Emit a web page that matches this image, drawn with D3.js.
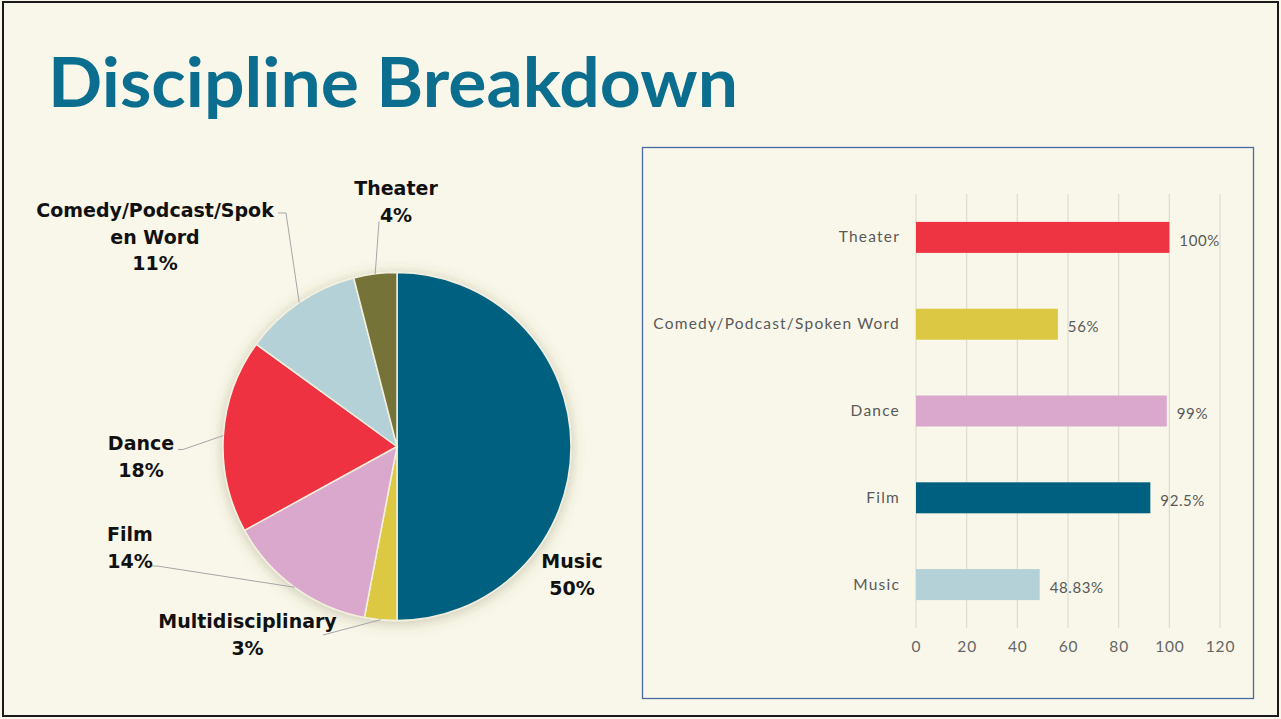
<!DOCTYPE html>
<html>
<head>
<meta charset="utf-8">
<script src="https://cdn.jsdelivr.net/npm/d3@7"></script>
<style>
  html, body { margin: 0; padding: 0; background: #f9f7e9; }
  svg { display: block; }
</style>
</head>
<body>
<svg id="slide" width="1281" height="719"></svg>
<script>
// ---- Data ----
const pieCategories = ["Music", "Multidisciplinary", "Film", "Dance", "Comedy/Podcast/Spoken Word", "Theater"];
const pieShares = [50, 3, 14, 18, 11, 4];
const pieColors = ["#00607f", "#dcc842", "#daa8cc", "#ee3342", "#b3d1d6", "#757339"];
// label lines as wrapped in the chart
const pieLabelLines = [["Music", "50%"], ["Multidisciplinary", "3%"], ["Film", "14%"], ["Dance", "18%"], ["Comedy/Podcast/Spok", "en Word", "11%"], ["Theater", "4%"]];

const barCategories = ["Theater", "Comedy/Podcast/Spoken Word", "Dance", "Film", "Music"];
const barValues = [100, 56, 99, 92.5, 48.83];
const barLabels = ["100%", "56%", "99%", "92.5%", "48.83%"];
const barColors = ["#ee3342", "#dcc842", "#daa8cc", "#00607f", "#b3d1d6"];
const barTicks = [0, 20, 40, 60, 80, 100, 120];

const svg = d3.select("#slide");

// slide background and frame
svg.append("rect").attr("x", 0).attr("y", 0).attr("width", 1281).attr("height", 719).attr("fill", "#f9f7e9");
svg.append("rect").attr("x", 3).attr("y", 2).attr("width", 1275).attr("height", 714)
  .attr("fill", "none").attr("stroke", "#1a1a1a").attr("stroke-width", 2);

// title
svg.append("text")
  .attr("x", 48).attr("y", 107)
  .attr("font-family", "Lato, 'DejaVu Sans', sans-serif")
  .attr("font-weight", 700).attr("font-size", 68)
  .attr("fill", "#0b6e8f")
  .attr("textLength", 690).attr("lengthAdjust", "spacingAndGlyphs")
  .text("Discipline Breakdown");

// ---- Pie ----
const defs = svg.append("defs");
const shadow = defs.append("filter").attr("id", "pieShadow")
  .attr("x", "-20%").attr("y", "-20%").attr("width", "140%").attr("height", "140%");
shadow.append("feDropShadow").attr("dx", 0).attr("dy", 2).attr("stdDeviation", 7)
  .attr("flood-color", "#5a5330").attr("flood-opacity", 0.3);

const cx = 397, cy = 446.5, R = 174;
const pieGen = d3.pie().sort(null).value(d => d).startAngle(0).endAngle(2 * Math.PI);
const arcs = pieGen(pieShares);
const arcGen = d3.arc().innerRadius(0).outerRadius(R);

const pieG = svg.append("g").attr("transform", `translate(${cx},${cy})`);
pieG.append("g").attr("filter", "url(#pieShadow)")
  .selectAll("path").data(arcs).join("path")
  .attr("d", arcGen)
  .attr("fill", (d, i) => pieColors[i])
  .attr("stroke", "#f3f0de").attr("stroke-width", 1.5);

// label anchors (centre x, first baseline) and leader start points, relative to pie centre
const labelLayout = [
  { x: 175, y: 121.5, lead: null },
  { x: -149.5, y: 181.5, lead: [[-74, 188.5]] },
  { x: -267, y: 94.5, lead: [[-245, 119.5], [-240, 119.5]] },
  { x: -256, y: 3.5, lead: [[-219, 3], [-214, 3]] },
  { x: -242, y: -229.5, lead: [[-119, -233.5], [-111, -233.5]] },
  { x: -1, y: -251.5, lead: [[-18, -225]] }
];
const lineGap = 26.5;

// leader lines
arcs.forEach((a, i) => {
  const L = labelLayout[i];
  if (!L.lead) return;
  const mid = (a.startAngle + a.endAngle) / 2;
  const end = [R * Math.sin(mid), -R * Math.cos(mid)];
  const pts = L.lead.concat([end]);
  pieG.append("path")
    .attr("d", d3.line()(pts))
    .attr("fill", "none").attr("stroke", "#a6a6a6").attr("stroke-width", 1);
});

// labels
arcs.forEach((a, i) => {
  const L = labelLayout[i];
  const t = pieG.append("text")
    .attr("text-anchor", "middle")
    .attr("font-family", "'DejaVu Sans', sans-serif")
    .attr("font-weight", 700).attr("font-size", 19)
    .attr("fill", "#111");
  pieLabelLines[i].forEach((line, j) => {
    t.append("tspan").attr("x", L.x).attr("y", L.y + j * lineGap).text(line);
  });
});

// ---- Bar chart ----
svg.append("rect").attr("x", 642.5).attr("y", 147.5).attr("width", 611).attr("height", 551)
  .attr("fill", "none").attr("stroke", "#4a6aa5").attr("stroke-width", 1.3);

const x = d3.scaleLinear().domain([0, 120]).range([916, 1220]);
const y = d3.scaleBand().domain(barCategories).range([194, 628]).paddingInner(0.643).paddingOuter(0.3215);

const barFont = "Lato, 'DejaVu Sans', sans-serif";
const textGrey = "#595959";

// vertical gridlines
svg.append("g").selectAll("line").data(barTicks).join("line")
  .attr("x1", d => x(d)).attr("x2", d => x(d))
  .attr("y1", 194).attr("y2", 628)
  .attr("stroke", "#dedbd0").attr("stroke-width", 1.2);

// x axis tick labels
const xAxis = d3.axisBottom(x).tickValues(barTicks).tickSize(0).tickPadding(0);
const xg = svg.append("g").attr("transform", "translate(0,641)").call(xAxis);
xg.select(".domain").remove();
xg.selectAll("text").attr("font-family", barFont).attr("font-size", 15.5).attr("fill", "#666")
  .attr("letter-spacing", 0.8).attr("dy", "0.71em");

// y axis category labels
const yAxis = d3.axisLeft(y).tickSize(0).tickPadding(16);
const yg = svg.append("g").attr("transform", `translate(${x(0)},0)`).call(yAxis);
yg.select(".domain").remove();
yg.selectAll("text").attr("font-family", barFont).attr("font-size", 15.5).attr("fill", textGrey)
  .attr("letter-spacing", 1.2);

// bars
svg.append("g").selectAll("rect").data(barValues).join("rect")
  .attr("x", x(0))
  .attr("y", (d, i) => y(barCategories[i]))
  .attr("width", d => x(d) - x(0))
  .attr("height", y.bandwidth())
  .attr("fill", (d, i) => barColors[i]);

// value labels
svg.append("g").selectAll("text").data(barValues).join("text")
  .attr("x", d => x(d) + 10)
  .attr("y", (d, i) => y(barCategories[i]) + y.bandwidth() / 2 + 3)
  .attr("dy", "0.35em")
  .attr("font-family", barFont).attr("font-size", 15).attr("fill", textGrey)
  .attr("letter-spacing", 0.6)
  .text((d, i) => barLabels[i]);
</script>
</body>
</html>
